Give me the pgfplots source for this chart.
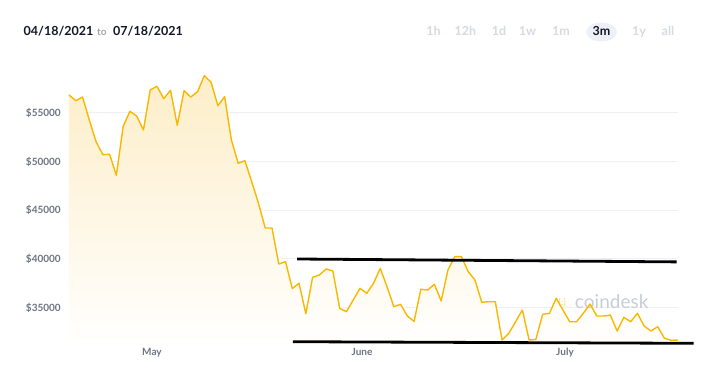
\documentclass[border=0pt]{standalone}
\usepackage{pgfplots}
\pgfplotsset{compat=1.18}
\usepackage{pgfplotstable}
\usepackage{fontspec}
\setmainfont{Lato}
\definecolor{linegold}{RGB}{248,184,0}
\definecolor{fillgold}{RGB}{253,238,200}
\definecolor{gridc}{RGB}{239,240,245}
\definecolor{tickc}{RGB}{110,115,130}
\definecolor{headc}{RGB}{20,22,40}
\definecolor{toc}{RGB}{160,165,178}
\definecolor{inact}{RGB}{214,217,226}
\definecolor{bubble}{RGB}{237,240,247}
\definecolor{wmark}{RGB}{200,204,214}
\definecolor{wlogo}{RGB}{250,225,160}

\pgfplotstableread{
day price
0 56823
1 56238
2 56618
3 54258
4 52032
5 50698
6 50739
7 48585
8 53597
9 55151
10 54668
11 53232
12 57336
13 57716
14 56444
15 57305
16 53714
17 57264
18 56618
19 57161
20 58803
21 58126
22 55725
23 56650
24 52207
25 49815
26 50082
27 47928
28 45711
29 43177
30 43177
31 39484
32 39720
33 36970
34 37500
35 34380
36 38119
37 38355
38 38971
39 38765
40 34938
41 34590
42 35790
43 36990
44 36477
45 37503
46 39042
47 37155
48 35100
49 35349
50 34148
51 33600
52 36900
53 36816
54 37401
55 35687
56 38868
57 40233
58 40233
59 38694
60 37842
61 35554
62 35616
63 35616
64 31686
65 32373
66 33563
67 34764
68 31686
69 31750
70 34323
71 34425
72 35964
73 34764
74 33563
75 33563
76 34425
77 35380
78 34148
79 34148
80 34250
81 32609
82 34015
83 33563
84 34425
85 33122
86 32609
87 33050
88 31860
89 31655
90 31686
}\pricedata

\begin{document}
\begin{tikzpicture}[x=1pt,y=1pt]
\path[use as bounding box] (0,0) rectangle (713,377);
% header
\node[anchor=base west, inner sep=0pt, font=\fontsize{12.5}{14}\selectfont\bfseries, text=headc] at (23.5,341) {04/18/2021};
\node[anchor=base west, inner sep=0pt, font=\fontsize{10}{12}\selectfont\bfseries, text=toc] at (97,341) {to};
\node[anchor=base west, inner sep=0pt, font=\fontsize{12.5}{14}\selectfont\bfseries, text=headc] at (113,341) {07/18/2021};
\fill[bubble] (601.5,345) ellipse [x radius=15.5, y radius=9.5];
\foreach \lab/\xx in {1h/433.5,12h/465.5,1d/499,1w/527.5,1m/561,1y/639,all/668}{
  \node[anchor=base, inner sep=0pt, font=\fontsize{12.5}{14}\selectfont\bfseries, text=inact] at (\xx,341) {\lab};
}
\node[anchor=base, inner sep=0pt, font=\fontsize{12.5}{14}\selectfont\bfseries, text=headc] at (601.5,341) {3m};
\begin{axis}[
  at={(69pt,30.3pt)}, anchor=south west,
  scale only axis, width=609pt, height=277.8pt,
  xmin=0, xmax=90, ymin=31000, ymax=59500,
  clip=false,
  scaled y ticks=false, scaled x ticks=false,
  axis line style={draw=none},
  major tick length=0pt,
  ymajorgrids, grid style={gridc, line width=1pt},
  ytick={35000,40000,45000,50000,55000},
  yticklabels={\$35000,\$40000,\$45000,\$50000,\$55000},
  yticklabel style={font=\fontsize{10}{12}\selectfont\bfseries, text=tickc, inner sep=0pt, anchor=east, xshift=-8pt},
  xtick={12.26,43.3,73.3},
  xticklabels={May,June,July},
  xticklabel style={font=\fontsize{10}{12}\selectfont\bfseries, text=tickc, inner sep=0pt, anchor=north, yshift=-1.5pt},
]
\addplot[draw=none, top color=fillgold, bottom color=white, forget plot] table[x=day, y=price] {\pricedata} \closedcycle;
\node[font=\fontsize{19}{22}\selectfont, text=wmark, anchor=center] at (axis cs:80.2,35585) {coindesk};
\node[font=\fontsize{9}{10}\selectfont\bfseries, text=wlogo, anchor=center] at (axis cs:72.9,35500) {[:]};
\addplot[linegold, line width=1.4pt, line join=round] table[x=day, y=price] {\pricedata};
\addplot[black, line width=2.8pt] coordinates {(33.7,39997) (89.8,39700)};
\addplot[black, line width=2.8pt] coordinates {(33.1,31512) (92.3,31347)};
\end{axis}
\end{tikzpicture}
\end{document}
